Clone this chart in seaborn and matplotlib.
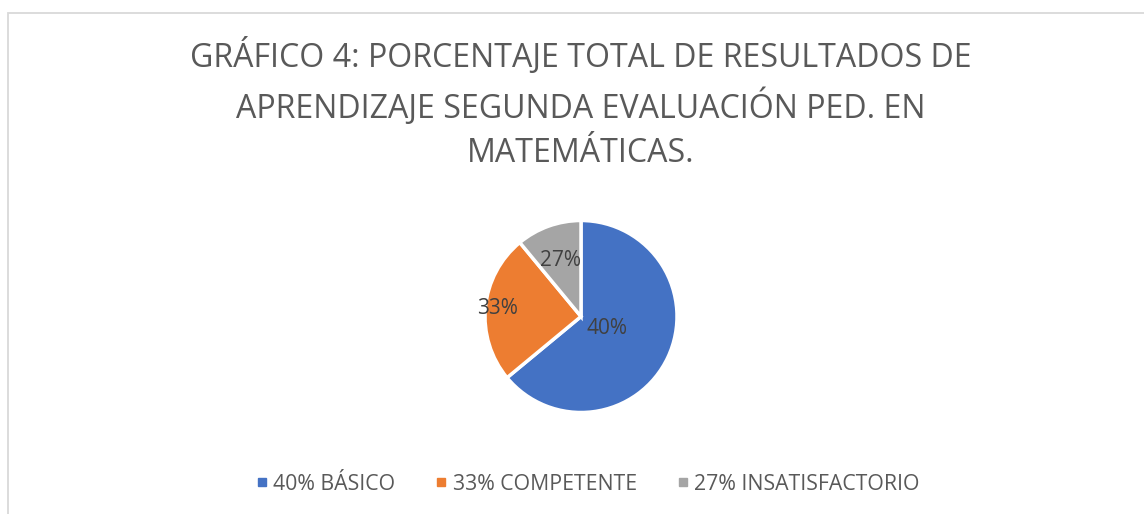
import numpy as np
import seaborn as sns
import matplotlib.pyplot as plt
from matplotlib.lines import Line2D
from matplotlib.patches import Rectangle

# datos (tamaño de los sectores)
categorias = ['40%', '33%', '27%']
leyenda = ['40% BÁSICO', '33% COMPETENTE', '27% INSATISFACTORIO']
valores = [64, 25, 11]
colores = ['#4472C4', '#ED7D31', '#A5A5A5']

titulo = ('GRÁFICO 4: PORCENTAJE TOTAL DE RESULTADOS DE\n'
          'APRENDIZAJE SEGUNDA EVALUACIÓN PED. EN\n'
          'MATEMÁTICAS.')

sns.set_theme(style='white')
plt.rcParams['font.family'] = ['Open Sans', 'DejaVu Sans']

fig = plt.figure(figsize=(11.44, 5.14), dpi=100)
W, H = 1144, 514

# marco del gráfico (cortado a la derecha y abajo)
fig.patches.append(Rectangle((7.5 / W, -0.1), 1.2, (514 - 12.5) / H + 0.1,
                             transform=fig.transFigure, fill=False,
                             edgecolor='#D9D9D9', linewidth=1.3))

# título
fig.text(581 / W, 1 - 104 / H, titulo, ha='center', va='center',
         fontsize=23.1, color='#595959', linespacing=1.45)

# tarta
r = 96
cx, cy = 581, 316.5
ax = fig.add_axes([(cx - r) / W, (H - cy - r) / H, 2 * r / W, 2 * r / H])
wedges, _ = ax.pie(valores, colors=colores, startangle=90, counterclock=False,
                   wedgeprops=dict(edgecolor='white', linewidth=2.5))
ax.set_aspect('equal')
ax.set_xlim(-1.0, 1.0)
ax.set_ylim(-1.0, 1.0)

distancias = [0.3, 0.87, 0.62]
for w, txt, d in zip(wedges, categorias, distancias):
    ang = np.deg2rad((w.theta1 + w.theta2) / 2)
    ax.text(d * np.cos(ang), d * np.sin(ang), txt, ha='center', va='center',
            fontsize=15, color='#404040')

# leyenda
handles = [Line2D([], [], marker='s', linestyle='', markersize=6,
                  markerfacecolor=c, markeredgecolor=c) for c in colores]
fig.legend(handles, leyenda, loc='center', bbox_to_anchor=(588 / W, 1 - 484 / H),
           ncol=3, frameon=False, fontsize=15.3, labelcolor='#595959',
           handlelength=0.5, handletextpad=0.3, columnspacing=1.9)

fig.savefig('out.png', dpi=100)
